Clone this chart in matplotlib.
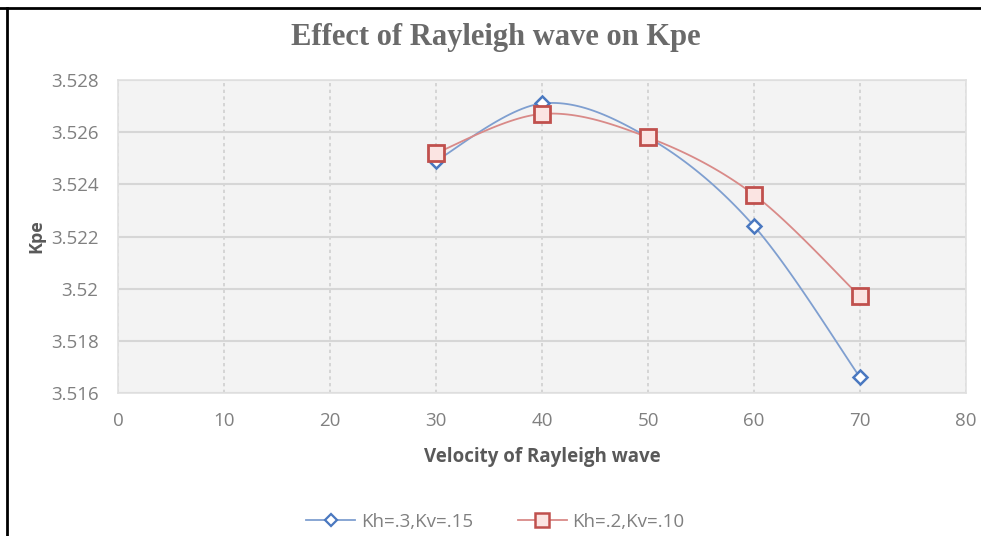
import numpy as np
import matplotlib
matplotlib.use('Agg')
from matplotlib import pyplot as plt
from matplotlib.lines import Line2D

# velocity of Rayleigh wave and the resulting Kpe for two seismic coefficient sets
velocity = [30, 40, 50, 60, 70]
kpe_kh3 = [3.5249, 3.5271, 3.5258, 3.5224, 3.5166]
kpe_kh2 = [3.5252, 3.5267, 3.5258, 3.5236, 3.5197]
labels = ['Kh=.3,Kv=.15', 'Kh=.2,Kv=.10']

x_ticks = [0, 10, 20, 30, 40, 50, 60, 70, 80]
y_ticks = [3.516, 3.518, 3.52, 3.522, 3.524, 3.526, 3.528]
y_tick_labels = ['3.516', '3.518', '3.52', '3.522', '3.524', '3.526', '3.528']


def smooth(xs, ys, n=30):
    # Excel-style smoothed line: cubic bezier segments with catmull-rom handles
    xs = np.asarray(xs, float)
    ys = np.asarray(ys, float)
    px = np.concatenate([[xs[0]], xs, [xs[-1]]])
    py = np.concatenate([[ys[0]], ys, [ys[-1]]])
    out_x, out_y = [], []
    t = np.linspace(0, 1, n)
    for i in range(1, len(px) - 2):
        p0 = np.array([px[i], py[i]])
        p3 = np.array([px[i + 1], py[i + 1]])
        p1 = p0 + (np.array([px[i + 1], py[i + 1]]) - np.array([px[i - 1], py[i - 1]])) / 6
        p2 = p3 - (np.array([px[i + 2], py[i + 2]]) - np.array([px[i], py[i]])) / 6
        b = ((1 - t) ** 3)[:, None] * p0 + (3 * (1 - t) ** 2 * t)[:, None] * p1 \
            + (3 * (1 - t) * t ** 2)[:, None] * p2 + (t ** 3)[:, None] * p3
        out_x.extend(b[:, 0])
        out_y.extend(b[:, 1])
    return out_x, out_y


blue = '#7f9fd0'
blue_edge = '#4a78c0'
red = '#d98a88'
red_edge = '#c0504d'

fig = plt.figure(figsize=(9.81, 5.36), dpi=100)
ax = fig.add_axes([118 / 981, 1 - 393 / 536, (966 - 118) / 981, (393 - 80) / 536])
ax.set_facecolor('#f3f3f3')

sx, sy = smooth(velocity, kpe_kh3)
ax.plot(sx, sy, color=blue, lw=1.3, zorder=3)
sx, sy = smooth(velocity, kpe_kh2)
ax.plot(sx, sy, color=red, lw=1.3, zorder=3)
ax.plot(velocity, kpe_kh3, ls='none', marker='D', ms=7.5, mfc='white',
        mec=blue_edge, mew=1.8, zorder=4)
ax.plot(velocity, kpe_kh2, ls='none', marker='s', ms=12, mfc='#fbe4e2',
        mec=red_edge, mew=2.0, zorder=5)

ax.set_xlim(0, 80)
ax.set_ylim(3.516, 3.528)
ax.set_xticks(x_ticks)
ax.set_yticks(y_ticks)
ax.set_yticklabels(y_tick_labels)
ax.tick_params(length=0, labelsize=13.5, colors='#808080')
ax.tick_params(axis='x', pad=14)
ax.tick_params(axis='y', pad=14)
for lab in ax.get_xticklabels() + ax.get_yticklabels():
    lab.set_family('Open Sans')

ax.grid(axis='y', color='#d6d6d6', lw=1.5, ls='-')
ax.grid(axis='x', color='#d0d0d0', lw=1.2, ls=(0, (2, 2)))
ax.set_axisbelow(True)
for s in ax.spines.values():
    s.set_color('#e0e0e0')
    s.set_linewidth(1.2)

ax.set_xlabel('Velocity of Rayleigh wave', fontsize=13.5, fontweight='bold',
              color='#595959', family='Open Sans', labelpad=12)
ax.set_ylabel('Kpe', fontsize=13, fontweight='bold', color='#595959',
              family='Open Sans', labelpad=4)

fig.text(0.505, 0.93, 'Effect of Rayleigh wave on Kpe', ha='center', va='center',
         fontsize=22, fontweight='bold', color='#6a6a6a', family='Liberation Serif')

handles = [
    Line2D([], [], color=blue, lw=1.3, marker='D', ms=6.5, mfc='white', mec=blue_edge, mew=1.6),
    Line2D([], [], color=red, lw=1.3, marker='s', ms=10, mfc='#fbe4e2', mec=red_edge, mew=1.8),
]
leg = fig.legend(handles, labels, loc='center', bbox_to_anchor=(0.505, 0.027), ncol=2,
                 frameon=False, fontsize=13.5, handlelength=2.6, columnspacing=2.4,
                 handletextpad=0.3)
for t in leg.get_texts():
    t.set_color('#808080')
    t.set_family('Open Sans')

# frame lines on the top and left of the image
fig.add_artist(Line2D([0, 1], [1 - 8 / 536, 1 - 8 / 536], color='black', lw=2,
                      transform=fig.transFigure))
fig.add_artist(Line2D([7 / 981, 7 / 981], [0, 1 - 8 / 536], color='black', lw=2,
                      transform=fig.transFigure))

fig.savefig('out.png', dpi=100, facecolor='white')
